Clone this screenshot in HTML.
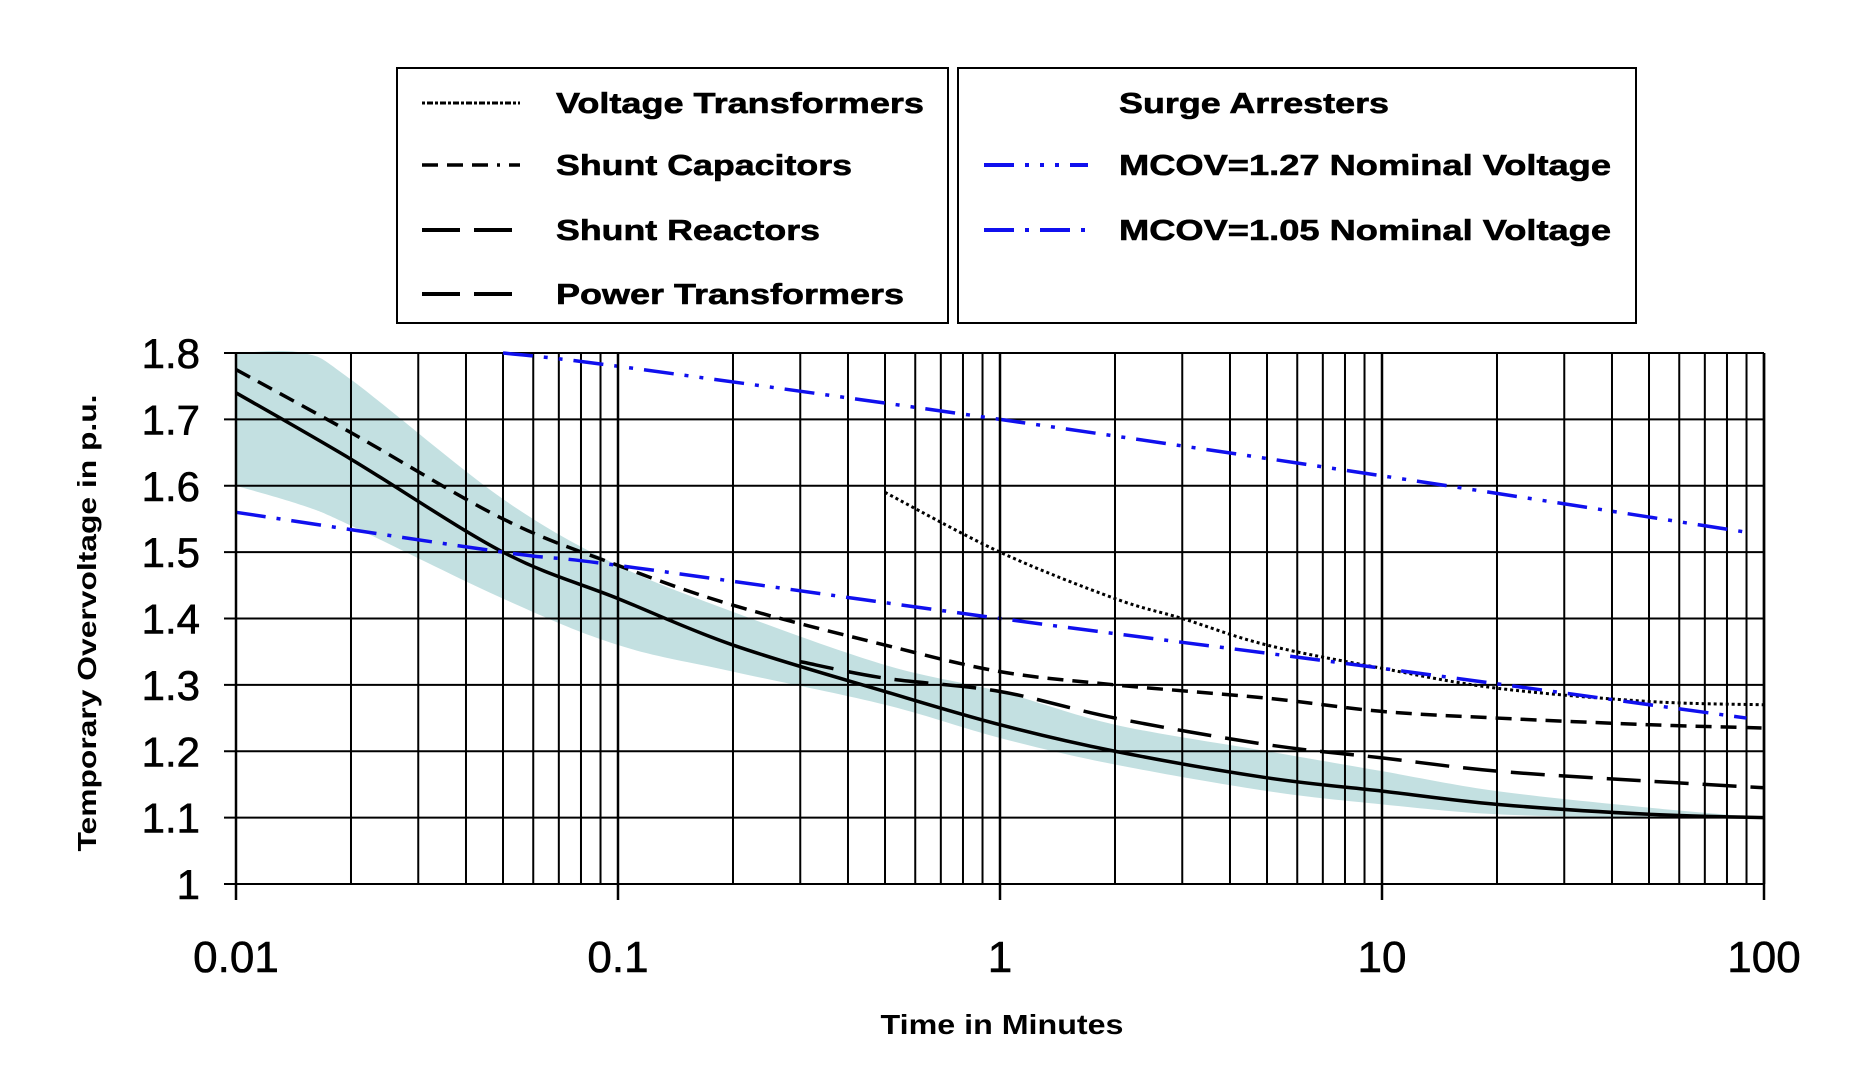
<!DOCTYPE html>
<html><head><meta charset="utf-8"><style>
html,body{margin:0;padding:0;background:#fff;}
svg{display:block;font-family:"Liberation Sans",Arial,sans-serif;}
</style></head><body>
<svg id="chart" width="1874" height="1066" viewBox="0 0 1874 1066">
<g id="legend">
 <rect x="397" y="68" width="551" height="255" fill="#fff" stroke="#000" stroke-width="2"/>
 <rect x="958" y="68" width="678" height="255" fill="#fff" stroke="#000" stroke-width="2"/>
 <g font-weight="bold" font-size="29" fill="#000" stroke="#000" stroke-width="0.6">
  <line x1="422" y1="103" x2="520" y2="103" stroke="#000" stroke-width="3" stroke-dasharray="3,2,6,2"/>
  <text x="556" y="113" textLength="368" lengthAdjust="spacingAndGlyphs">Voltage Transformers</text>
  <line x1="422" y1="165" x2="520" y2="165" stroke="#000" stroke-width="3.5" stroke-dasharray="16,9,16,9,16,9,3,9"/>
  <text x="556" y="175" textLength="296" lengthAdjust="spacingAndGlyphs">Shunt Capacitors</text>
  <line x1="422" y1="230" x2="512" y2="230" stroke="#000" stroke-width="4" stroke-dasharray="38,14"/>
  <text x="556" y="240" textLength="264" lengthAdjust="spacingAndGlyphs">Shunt Reactors</text>
  <line x1="422" y1="294" x2="512" y2="294" stroke="#000" stroke-width="4" stroke-dasharray="38,14"/>
  <text x="556" y="304" textLength="348" lengthAdjust="spacingAndGlyphs">Power Transformers</text>
  <text x="1119" y="113" textLength="270" lengthAdjust="spacingAndGlyphs">Surge Arresters</text>
  <line x1="984" y1="165" x2="1088" y2="165" stroke="#1010ee" stroke-width="4" stroke-dasharray="30,11,4,11,4,11,4,11"/>
  <text x="1119" y="175" textLength="492" lengthAdjust="spacingAndGlyphs">MCOV=1.27 Nominal Voltage</text>
  <line x1="984" y1="230" x2="1088" y2="230" stroke="#1010ee" stroke-width="4" stroke-dasharray="30,11,4,11"/>
  <text x="1119" y="240" textLength="492" lengthAdjust="spacingAndGlyphs">MCOV=1.05 Nominal Voltage</text>
 </g>
</g>
<g id="band"></g>
<g id="grid"></g>
<g id="series"></g>
<g id="axes"></g>
<text x="96" y="623" transform="rotate(-90 96 623)" text-anchor="middle" font-weight="bold" font-size="26" textLength="457" lengthAdjust="spacingAndGlyphs">Temporary Overvoltage in p.u.</text>
<text x="1002" y="1034" text-anchor="middle" font-weight="bold" font-size="28" textLength="243" lengthAdjust="spacingAndGlyphs">Time in Minutes</text>
</svg>
<script>
const NS="http://www.w3.org/2000/svg";
const xTicks=[0.01,0.1,1,10,100];
const xTickLabels=["0.01","0.1","1","10","100"];
const yTicks=[1,1.1,1.2,1.3,1.4,1.5,1.6,1.7,1.8];
const yTickLabels=["1","1.1","1.2","1.3","1.4","1.5","1.6","1.7","1.8"];
const ptX=[0.01,0.02,0.05,0.1,0.2,0.5,1,2,5,10,20,50,100];
const ptY=[1.74,1.64,1.50,1.43,1.36,1.29,1.24,1.20,1.16,1.14,1.12,1.105,1.10];
const scX=[0.01,0.02,0.05,0.1,0.2,0.5,1,2,5,10,20,50,100];
const scY=[1.775,1.68,1.55,1.48,1.42,1.36,1.32,1.30,1.28,1.26,1.25,1.24,1.235];
const srX=[0.3,0.5,1,2,5,10,20,50,100];
const srY=[1.335,1.31,1.29,1.25,1.21,1.19,1.17,1.155,1.145];
const vtX=[0.5,1,2,3,5,10,20,50,100];
const vtY=[1.59,1.50,1.43,1.40,1.36,1.325,1.295,1.275,1.27];
const m127X=[0.05,0.1,1,10,90];
const m127Y=[1.80,1.78,1.70,1.615,1.53];
const m105X=[0.01,0.05,0.1,1,10,90];
const m105Y=[1.56,1.50,1.48,1.40,1.325,1.25];
const bandX=[0.01,0.015,0.02,0.05,0.1,0.2,0.5,1,2,5,10,20,50,100];
const bandHi=[1.80,1.80,1.76,1.58,1.48,1.41,1.33,1.29,1.24,1.20,1.17,1.14,1.115,1.10];
const bandLo=[1.60,1.57,1.54,1.43,1.36,1.32,1.27,1.22,1.18,1.14,1.12,1.105,1.10,1.10];

const L=236,R=1764,T=353,B=884;
const sx=v=>L+(Math.log10(v)+2)/4*(R-L);
const sy=v=>B-(v-1)/0.8*(B-T);
function mk(tag,attrs,parent){const e=document.createElementNS(NS,tag);for(const k in attrs)e.setAttribute(k,attrs[k]);parent.appendChild(e);return e;}
function path(xs,ys){
 const p=xs.map((x,i)=>[sx(x),sy(ys[i])]);
 let d="M"+p[0][0]+","+p[0][1];
 for(let i=0;i<p.length-1;i++){
  const p0=p[i-1]||p[i],p1=p[i],p2=p[i+1],p3=p[i+2]||p[i+1];
  const c1=[p1[0]+(p2[0]-p0[0])/6,p1[1]+(p2[1]-p0[1])/6];
  const c2=[p2[0]-(p3[0]-p1[0])/6,p2[1]-(p3[1]-p1[1])/6];
  d+=" C"+c1+" "+c2+" "+p2;
 }
 return d;
}
const band=document.getElementById('band');
{
 const p=mk('path',{fill:'#c3e0e1',stroke:'none'},band);
 let d=path(bandX,bandHi);
 const rx=bandX.slice().reverse(),ry=bandLo.slice().reverse();
 d+=" L"+path(rx,ry).slice(1)+" Z";
 p.setAttribute('d',d);
 
 
}
const grid=document.getElementById('grid');
for(let e=-2;e<2;e++){for(let m=1;m<10;m++){const v=m*Math.pow(10,e);const l=mk('line',{x1:sx(v),x2:sx(v),y1:T,y2:B,stroke:'#000','stroke-width':2},grid);

}}
yTicks.forEach(v=>{const l=mk('line',{x1:L-12,x2:R,y1:sy(v),y2:sy(v),stroke:'#000','stroke-width':2},grid);

});
mk('line',{x1:R,x2:R,y1:T,y2:B,stroke:'#000','stroke-width':2.5},grid);
const series=document.getElementById('series');
function line(xs,ys,name,color,w,dash){const p=mk('path',{d:path(xs,ys),fill:'none',stroke:color,'stroke-width':w,'stroke-dasharray':dash},series);

}
line(ptX,ptY,'power-transformers-line','#000',3.5,'none');
line(srX,srY,'shunt-reactors-line','#000',3.5,'34,14');
line(scX,scY,'shunt-capacitors-line','#000',3.5,'16,9');
line(vtX,vtY,'voltage-transformers-line','#000',3,'3,3');
line(m127X,m127Y,'mcov-127-line','#1010ee',3.5,'30,11,4,11,4,11');
line(m105X,m105Y,'mcov-105-line','#1010ee',3.5,'30,11,4,11');
const axes=document.getElementById('axes');
xTicks.forEach((v,i)=>{mk('line',{x1:sx(v),x2:sx(v),y1:T,y2:B+16,stroke:'#000','stroke-width':2.5},axes);
 const t=mk('text',{x:sx(v),y:972,'text-anchor':'middle','font-size':44,stroke:'#000','stroke-width':0.6},axes);t.textContent=xTickLabels[i];
 
 });
yTicks.forEach((v,i)=>{const t=mk('text',{x:200,y:sy(v)+15,'text-anchor':'end','font-size':42,stroke:'#000','stroke-width':0.6},axes);t.textContent=yTickLabels[i];
 
 });
</script>
</body></html>
